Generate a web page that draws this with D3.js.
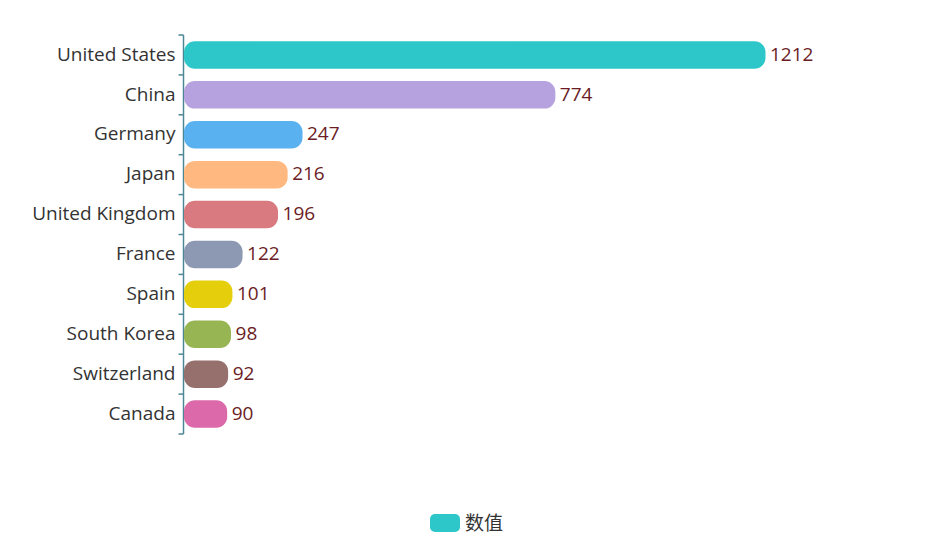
<!DOCTYPE html>
<html><head><meta charset="utf-8">
<script src="https://cdn.jsdelivr.net/npm/d3@7"></script>
<style>body{margin:0;background:#fff;}svg{display:block;font-family:"Open Sans","Noto Sans","Noto Sans CJK SC",sans-serif;}</style>
</head><body><svg id="c" width="932" height="537"></svg>
<script>
const categories = ["United States","China","Germany","Japan","United Kingdom","France","Spain","South Korea","Switzerland","Canada"];
const values = [1212,774,247,216,196,122,101,98,92,90];
const colors = ["#2ec7c9","#b6a2de","#5ab1ef","#ffb980","#d87a80","#8d98b3","#e5cf0d","#97b552","#95706d","#dc69aa"];
const seriesName = "数值";

const svg = d3.select("#c");
const mLeft = 183.5, mRight = 765, mTop = 35, mBottom = 434;
const x = d3.scaleLinear().domain([0, 1212]).range([mLeft, mRight]);
const y = d3.scaleBand().domain(categories).range([mTop, mBottom]);
const bh = 27.5;

const axis = svg.append("g").attr("transform", `translate(${mLeft},0)`)
  .call(d3.axisLeft(y).tickSize(0).tickPadding(8));
axis.select(".domain").attr("stroke", "#4e8796").attr("stroke-width", 1.5).attr("d", `M0,${mTop}V${mBottom}`);
axis.selectAll("text").attr("font-size", 19).attr("fill", "#333").attr("dy", "0.3em").attr("font-family", '"Open Sans","Noto Sans",sans-serif');
const bounds = categories.map(c => y(c)).concat([mBottom]);
svg.append("g").selectAll("line").data(bounds).join("line")
  .attr("x1", mLeft - 5).attr("x2", mLeft).attr("y1", d => d).attr("y2", d => d)
  .attr("stroke", "#4e8796").attr("stroke-width", 1.5);

const g = svg.append("g");
g.selectAll("rect").data(categories).join("rect")
  .attr("x", mLeft + 0.5)
  .attr("y", c => y(c) + y.bandwidth()/2 - bh/2)
  .attr("width", (c,i) => x(values[i]) - mLeft)
  .attr("height", bh)
  .attr("rx", 11).attr("ry", 11)
  .attr("fill", (c,i) => colors[i]);

g.selectAll("text.v").data(categories).join("text").attr("class","v")
  .attr("x", (c,i) => x(values[i]) + 5)
  .attr("y", c => y(c) + y.bandwidth()/2)
  .attr("dy", "0.3em")
  .attr("font-size", 19).attr("fill", "#6b1c24")
  .text((c,i) => values[i]);

const lg = svg.append("g");
lg.append("rect").attr("x", 430).attr("y", 514).attr("width", 30).attr("height", 18).attr("rx", 5).attr("fill", colors[0]);
lg.append("text").attr("x", 465).attr("y", 523).attr("dy", "0.35em").attr("font-size", 19).attr("fill", "#333")
  .attr("font-family", '"Noto Sans CJK SC",sans-serif').text(seriesName);
</script></body></html>
